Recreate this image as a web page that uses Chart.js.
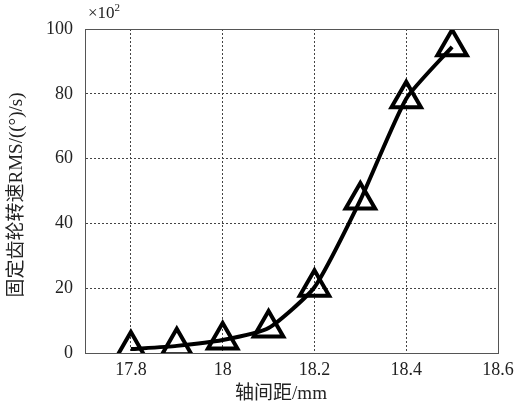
<!DOCTYPE html>
<html>
<head>
<meta charset="utf-8">
<script src="https://cdn.jsdelivr.net/npm/chart.js@4/dist/chart.umd.min.js"></script>
<style>
  html, body { margin: 0; padding: 0; background: #fff; }
  #wrap { width: 521px; height: 408px; }
</style>
</head>
<body>
<div id="wrap"><canvas id="rmsChart"></canvas></div>
<script>
// axle distance (mm) and fixed gear speed RMS (x10^2 (°)/s)
const distance = [17.8, 17.9, 18.0, 18.1, 18.2, 18.3, 18.4, 18.5];
const speedRms = [1.2, 2.2, 4.0, 7.7, 20.3, 47.2, 78.5, 94.5];
const xTicks = [17.8, 18, 18.2, 18.4, 18.6];
const yTicks = [0, 20, 40, 60, 80, 100];
const xLabel = '轴间距/mm';
const yLabel = '固定齿轮转速RMS/((°)/s)';

const serif = '"Liberation Serif", "Times New Roman", "Noto Sans CJK SC", serif';

// box, exponent and axis titles placed like the original figure
const frame = {
  id: 'frame',
  afterDatasetsDraw(chart) {
    const { ctx, chartArea: a } = chart;
    ctx.save();
    ctx.strokeStyle = '#555';
    ctx.lineWidth = 1;
    ctx.strokeRect(a.left + 0.5, a.top + 0.5, a.right - a.left, a.bottom - a.top);
    ctx.fillStyle = '#222';
    ctx.font = '17px ' + serif;
    ctx.textBaseline = 'alphabetic';
    ctx.fillText('\u00d710', a.left + 3, a.top - 11);
    const w = ctx.measureText('\u00d710').width;
    ctx.font = '11px ' + serif;
    ctx.fillText('2', a.left + 3 + w, a.top - 18);

    ctx.textAlign = 'center';
    ctx.textBaseline = 'middle';
    ctx.font = '19px ' + serif;
    ctx.fillText(xLabel, 281, 394);

    ctx.translate(17, 195);
    ctx.rotate(-Math.PI / 2);
    ctx.font = '19px ' + serif;
    ctx.fillText(yLabel, 0, 0);
    ctx.restore();
  }
};

const points = distance.map((d, i) => ({ x: d, y: speedRms[i] }));

new Chart(document.getElementById('rmsChart'), {
  type: 'line',
  data: {
    datasets: [{
      data: points,
      borderColor: '#000',
      borderWidth: 4,
      tension: 0.18,
      pointStyle: 'triangle',
      pointRadius: 17,
      pointBorderWidth: 4,
      pointBorderColor: '#000',
      pointBackgroundColor: 'rgba(0,0,0,0)',
      fill: false
    }]
  },
  options: {
    responsive: true,
    maintainAspectRatio: false,
    animation: false,
    layout: { padding: { left: 0, right: 23, top: 29, bottom: 0 } },
    plugins: { legend: { display: false }, tooltip: { enabled: false } },
    scales: {
      x: {
        type: 'linear',
        min: 17.7,
        max: 18.6,
        afterFit: (s) => { s.height = 55; },
        afterBuildTicks: (s) => { s.ticks = xTicks.map(v => ({ value: v })); },
        ticks: {
          color: '#222',
          font: { family: serif, size: 18 },
          padding: 6,
          callback: (v) => String(Math.round(v * 10) / 10)
        },
        grid: { color: '#444', lineWidth: 1, drawTicks: false },
        border: { display: true, color: '#555', dash: [2, 2] }
      },
      y: {
        min: 0,
        max: 100,
        afterFit: (s) => { s.width = 85; },
        afterBuildTicks: (s) => { s.ticks = yTicks.map(v => ({ value: v })); },
        ticks: {
          color: '#222',
          font: { family: serif, size: 18 },
          padding: 12
        },
        grid: { color: '#444', lineWidth: 1, drawTicks: false },
        border: { display: true, color: '#555', dash: [2, 2] }
      }
    }
  },
  plugins: [frame]
});
</script>
</body>
</html>
